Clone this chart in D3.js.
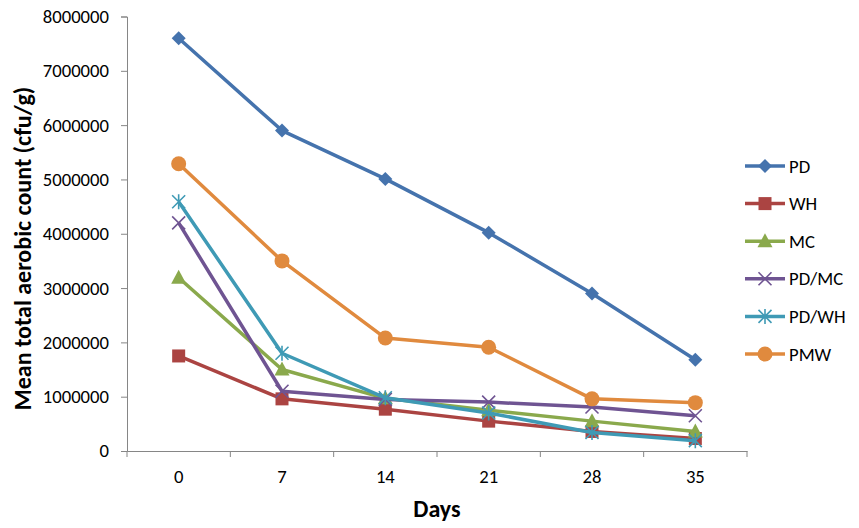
<!DOCTYPE html>
<html>
<head>
<meta charset="utf-8">
<script src="https://cdn.jsdelivr.net/npm/d3@7"></script>
<style>
  body { margin: 0; background: #fff; }
  text { font-family: Carlito, "Open Sans", "Noto Sans", sans-serif; }
</style>
</head>
<body>
<svg id="chart" width="859" height="528"></svg>
<script>
// data
var days = ["0", "7", "14", "21", "28", "35"];
var yTicks = [0, 1000000, 2000000, 3000000, 4000000, 5000000, 6000000, 7000000, 8000000];
var seriesNames = ["PD", "WH", "MC", "PD/MC", "PD/WH", "PMW"];
var pd   = [7600000, 5900000, 5010000, 4020000, 2900000, 1680000];
var wh   = [1750000, 960000, 770000, 550000, 360000, 230000];
var mc   = [3190000, 1500000, 970000, 750000, 550000, 360000];
var pdmc = [4200000, 1100000, 950000, 900000, 810000, 650000];
var pdwh = [4590000, 1800000, 980000, 700000, 340000, 190000];
var pmw  = [5290000, 3500000, 2080000, 1910000, 960000, 890000];

var allValues = [pd, wh, mc, pdmc, pdwh, pmw];
var colors = ["#4573ad", "#ab4442", "#8aa94c", "#6f5492", "#3f9ab5", "#e08a3e"];
var shapes = ["diamond", "square", "triangle", "x", "star", "circle"];

var margin = { top: 16.5, right: 112, bottom: 77, left: 127 },
  width = 859 - margin.left - margin.right,
  height = 528 - margin.top - margin.bottom;

var svg = d3.select("#chart")
  .append("g")
  .attr("transform", "translate(" + margin.left + "," + margin.top + ")");

var xScale = d3.scaleBand().domain(days).range([0, width]);
var yScale = d3.scaleLinear().domain([0, 8000000]).range([height, 0]);

// axes
var yAxis = d3.axisLeft(yScale).tickValues(yTicks).tickSize(6).tickFormat(d3.format("d"));
var gy = svg.append("g").call(yAxis);
var xAxis = d3.axisBottom(xScale).tickSize(0);
var gx = svg.append("g").attr("transform", "translate(0," + height + ")").call(xAxis);

[gx, gy].forEach(function (g) {
  g.selectAll("path, line").attr("stroke", "#868686");
  g.selectAll("text").attr("font-size", "18.67px").attr("fill", "#000");
});
gy.selectAll("text").attr("x", -18);
gx.selectAll("text").attr("y", 32).attr("dy", 0);

// x tick marks between categories
var bounds = days.map(function (d) { return xScale(d); }).concat([width]);
svg.append("g").selectAll("line").data(bounds).join("line")
  .attr("x1", function (d) { return d; }).attr("x2", function (d) { return d; })
  .attr("y1", height).attr("y2", height + 6)
  .attr("stroke", "#868686");

// axis titles
svg.append("text")
  .attr("transform", "translate(" + (-96) + "," + (232) + ")rotate(-90)")
  .attr("text-anchor", "middle")
  .attr("font-size", "24px").attr("font-weight", "bold")
  .text("Mean total aerobic count (cfu/g)");
svg.append("text")
  .attr("x", width / 2).attr("y", height + 66)
  .attr("text-anchor", "middle")
  .attr("font-size", "24px").attr("font-weight", "bold")
  .text("Days");

var cx = function (i) { return xScale(days[i]) + xScale.bandwidth() / 2; };

function drawMarker(g, shape, color, x, y) {
  if (shape === "diamond") {
    g.append("path").attr("d", "M0,-7L7,0L0,7L-7,0Z").attr("fill", color)
      .attr("transform", "translate(" + x + "," + y + ")");
  } else if (shape === "square") {
    g.append("rect").attr("x", x - 6.5).attr("y", y - 6.5).attr("width", 13).attr("height", 13).attr("fill", color);
  } else if (shape === "triangle") {
    g.append("path").attr("d", "M0,-8L7.5,6L-7.5,6Z").attr("fill", color)
      .attr("transform", "translate(" + x + "," + y + ")");
  } else if (shape === "x") {
    g.append("path").attr("d", "M-6.5,-6.5L6.5,6.5M-6.5,6.5L6.5,-6.5")
      .attr("stroke", color).attr("stroke-width", 1.6).attr("fill", "none")
      .attr("transform", "translate(" + x + "," + y + ")");
  } else if (shape === "star") {
    g.append("path").attr("d", "M-6.5,-6.5L6.5,6.5M-6.5,6.5L6.5,-6.5M0,-7.5L0,7.5")
      .attr("stroke", color).attr("stroke-width", 1.6).attr("fill", "none")
      .attr("transform", "translate(" + x + "," + y + ")");
  } else {
    g.append("circle").attr("cx", x).attr("cy", y).attr("r", 7.5).attr("fill", color);
  }
}

var line = d3.line()
  .x(function (d, i) { return cx(i); })
  .y(function (d) { return yScale(d); });

allValues.forEach(function (vals, s) {
  var g = svg.append("g");
  g.append("path").datum(vals)
    .attr("d", line)
    .attr("fill", "none")
    .attr("stroke", colors[s])
    .attr("stroke-width", 3.5)
    .attr("stroke-linejoin", "round");
  vals.forEach(function (v, i) {
    drawMarker(g, shapes[s], colors[s], cx(i), yScale(v));
  });
});

// legend
var legend = d3.select("#chart").append("g").attr("transform", "translate(745,166)");
seriesNames.forEach(function (name, s) {
  var g = legend.append("g").attr("transform", "translate(0," + (s * 37.6) + ")");
  g.append("line").attr("x1", 0).attr("x2", 40).attr("y1", 0).attr("y2", 0)
    .attr("stroke", colors[s]).attr("stroke-width", 3.5);
  drawMarker(g, shapes[s], colors[s], 20, 0);
  g.append("text").attr("x", 44).attr("y", 0).attr("dy", "0.35em")
    .attr("font-size", "18.67px").attr("fill", "#000").text(name);
});
</script>
</body>
</html>
